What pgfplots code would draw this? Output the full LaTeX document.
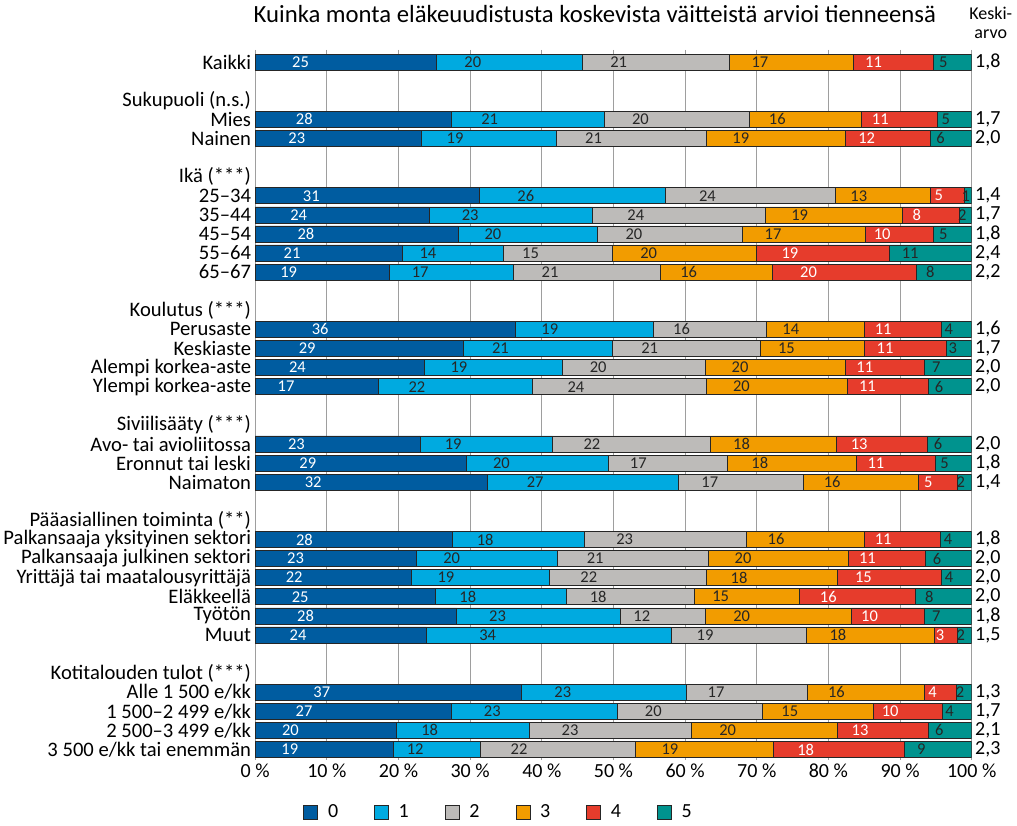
\documentclass[border=0pt]{standalone}
\usepackage{fontspec}
\setmainfont{Carlito}
\usepackage{pgfplots}
\usepackage{pgfplotstable}
\pgfplotsset{compat=1.18}

\definecolor{c0}{HTML}{005CA0}
\definecolor{c1}{HTML}{00AAE0}
\definecolor{c2}{HTML}{BDBBB9}
\definecolor{c3}{HTML}{F29C00}
\definecolor{c4}{HTML}{E63C2C}
\definecolor{c5}{HTML}{00938E}

% row = position from the top; a0..a5 = bar lengths (%), l0..l5 = printed values
\pgfplotstableread{
row a0 a1 a2 a3 a4 a5 l0 l1 l2 l3 l4 l5
0 25.3 20.3 20.5 17.4 11.2 5.3 25 20 21 17 11 5
3 27.4 21.3 20.25 15.65 10.6 4.8 28 21 20 16 11 5
4 23.2 18.8 20.9 19.5 11.8 5.8 23 19 21 19 12 6
7 31.3 25.9 23.7 13.35 4.65 1.1 31 26 24 13 5 1
8 24.3 22.8 24.1 19.15 7.9 1.75 24 23 24 19 8 2
9 28.3 19.5 20.2 17.1 9.6 5.3 28 20 20 17 10 5
10 20.6 14.0 15.3 20.1 18.55 11.45 21 14 15 20 19 11
11 18.7 17.3 20.6 15.6 20.1 7.65 19 17 21 16 20 8
14 36.3 19.25 15.8 13.6 10.8 4.2 36 19 16 14 11 4
15 29.0 20.9 20.6 14.55 11.45 3.45 29 21 21 15 11 3
16 23.6 19.3 19.9 19.5 11.1 6.6 24 19 20 20 11 7
17 17.2 21.5 24.25 19.65 11.35 6.0 17 22 24 20 11 6
20 23.0 18.5 21.95 17.7 12.6 6.25 23 19 22 18 13 6
21 29.4 19.9 16.65 17.9 11.1 5.05 29 20 17 18 11 5
22 32.4 26.7 17.4 16.1 5.35 2.05 32 27 17 16 5 2
25 27.5 18.4 22.7 16.4 10.6 4.4 28 18 23 16 11 4
26 22.5 19.7 21.0 19.55 10.8 6.45 23 20 21 20 11 6
27 21.8 19.3 21.85 18.3 14.55 4.2 22 19 22 18 15 4
28 25.1 18.3 17.9 14.65 16.15 7.9 25 18 18 15 16 8
29 28.1 22.9 11.8 20.4 10.2 6.6 28 23 12 20 10 7
30 23.9 34.2 18.75 17.95 3.15 2.05 24 34 19 18 3 2
33 37.2 22.9 16.9 16.45 4.4 2.15 37 23 17 16 4 2
34 27.3 23.2 20.25 15.45 9.7 4.1 27 23 20 15 10 4
35 19.7 18.6 22.55 20.4 12.7 6.05 20 18 23 20 13 6
36 19.3 12.1 21.7 19.15 18.35 9.4 19 12 22 19 18 9
}\data

\begin{document}
\begin{tikzpicture}
\path[use as bounding box] (-255.2pt,-66pt) rectangle (761.8pt,760pt);
\begin{axis}[
    at={(0,0)}, anchor=south west,
    scale only axis, width=716.5pt, height=710pt,
    xbar stacked, bar width=16pt,
    xmin=0, xmax=100, ymin=-0.63, ymax=36.55, y dir=reverse,
    xtick={0,10,...,100},
    xticklabels={0 \%,10 \%,20 \%,30 \%,40 \%,50 \%,60 \%,70 \%,80 \%,90 \%,100 \%},
    ytick={0,2,3,4,6,7,8,9,10,11,13,14,15,16,17,19,20,21,22,24,25,26,27,28,29,30,32,33,34,35,36},
    yticklabels={Kaikki, Sukupuoli (n.s.), Mies, Nainen, Ikä (***), 25–34, 35–44, 45–54, 55–64, 65–67,
      Koulutus (***), Perusaste, Keskiaste, Alempi korkea-aste, Ylempi korkea-aste,
      Siviilisääty (***), Avo- tai avioliitossa, Eronnut tai leski, Naimaton,
      Pääasiallinen toiminta (**), Palkansaaja yksityinen sektori, Palkansaaja julkinen sektori,
      Yrittäjä tai maatalousyrittäjä, Eläkkeellä, Työtön, Muut,
      Kotitalouden tulot (***), Alle 1 500 e/kk, 1 500–2 499 e/kk, 2 500–3 499 e/kk, 3 500 e/kk tai enemmän},
    major tick length=0pt,
    axis line style={draw=none},
    xmajorgrids, grid style={color=black!38, line width=0.9pt},
    yticklabel style={font=\fontsize{20.6}{22}\selectfont, inner xsep=4pt, inner ysep=0pt},
    xticklabel style={font=\fontsize{20}{22}\selectfont},
    title={Kuinka monta eläkeuudistusta koskevista väitteistä arvioi tienneensä},
    title style={font=\fontsize{24.7}{26}\selectfont, at={(0.474,1)}, anchor=base, yshift=21pt},
    point meta=explicit symbolic,
    nodes near coords,
    every node near coord/.append style={anchor=center, xshift={-1.79125*\segw},
      font=\fontsize{16.5}{17}\selectfont, text=black!85, inner sep=0pt},
    every axis plot/.append style={draw=black!85, line width=0.6pt},
    legend columns=6,
    legend style={at={(0.067,-0.073)}, anchor=west, draw=none, inner sep=0pt,
      font=\fontsize{20}{22}\selectfont,
      /tikz/every odd column/.append style={column sep=8pt},
      /tikz/every even column/.append style={column sep=34pt}},
    legend image code/.code={\draw[#1] (0pt,-7pt) rectangle (14pt,7pt);},
]
\addplot[fill=c0, visualization depends on={\thisrow{a0} \as \segw},
  every node near coord/.append style={text=white}] table[x=a0, y=row, meta=l0] {\data};
\addplot[fill=c1, visualization depends on={\thisrow{a1} \as \segw}] table[x=a1, y=row, meta=l1] {\data};
\addplot[fill=c2, visualization depends on={\thisrow{a2} \as \segw}] table[x=a2, y=row, meta=l2] {\data};
\addplot[fill=c3, visualization depends on={\thisrow{a3} \as \segw}] table[x=a3, y=row, meta=l3] {\data};
\addplot[fill=c4, visualization depends on={\thisrow{a4} \as \segw},
  every node near coord/.append style={text=white}] table[x=a4, y=row, meta=l4] {\data};
\addplot[fill=c5, visualization depends on={\thisrow{a5} \as \segw}] table[x=a5, y=row, meta=l5] {\data};
\legend{0,1,2,3,4,5}
\end{axis}
% mean values on the right
\begin{axis}[
    at={(0,0)}, anchor=south west,
    scale only axis, width=716.5pt, height=710pt,
    xmin=0, xmax=100, ymin=-0.63, ymax=36.55, y dir=reverse,
    axis line style={draw=none}, xtick=\empty, major tick length=0pt,
    yticklabel pos=right,
    ytick={0,3,4,7,8,9,10,11,14,15,16,17,20,21,22,25,26,27,28,29,30,33,34,35,36},
    yticklabels={{1,8},{1,7},{2,0},{1,4},{1,7},{1,8},{2,4},{2,2},{1,6},{1,7},{2,0},{2,0},
      {2,0},{1,8},{1,4},{1,8},{2,0},{2,0},{2,0},{1,8},{1,5},{1,3},{1,7},{2,1},{2,3}},
    yticklabel style={font=\fontsize{20}{22}\selectfont, inner ysep=0pt},
    title={Keski-\\arvo},
    title style={font=\fontsize{18}{19}\selectfont, align=center, at={(1,1)}, anchor=south,
      xshift=19pt, yshift=2pt},
]
\end{axis}
\end{tikzpicture}
\end{document}
